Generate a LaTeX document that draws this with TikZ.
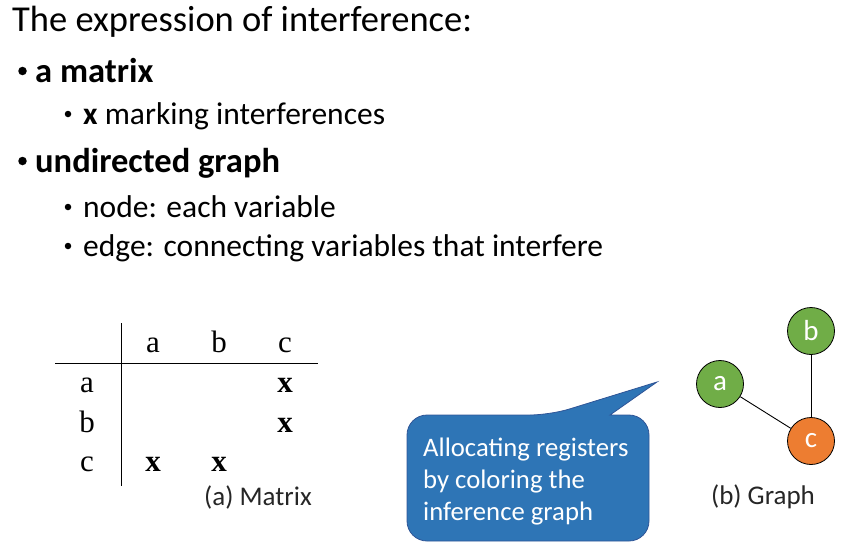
\documentclass[tikz,border=0pt]{standalone}
\usepackage{fontspec}
\setmainfont{Carlito}
\newfontfamily\serifmat{Liberation Serif}
\usetikzlibrary{calc}
\definecolor{gnode}{HTML}{70AD47}
\definecolor{onode}{HTML}{ED7D31}
\definecolor{callfill}{HTML}{2E75B6}
\definecolor{callline}{HTML}{2F5597}
\tikzset{
  lvltitle/.style={anchor=base west, inner sep=0pt, font=\fontsize{36.5}{40}\selectfont},
  lvlone/.style={anchor=base west, inner sep=0pt, font=\bfseries\fontsize{34.5}{38}\selectfont},
  lvltwo/.style={anchor=base west, inner sep=0pt, font=\fontsize{31.5}{35}\selectfont},
  bulletone/.style={circle, fill=black, inner sep=0pt, minimum size=8.5pt},
  bullettwo/.style={circle, fill=black, inner sep=0pt, minimum size=6.5pt},
  mat/.style={anchor=base, inner sep=0pt, font=\serifmat\fontsize{31}{34}\selectfont},
  matx/.style={anchor=base, inner sep=0pt, font=\serifmat\bfseries\fontsize{31}{34}\selectfont},
  caption/.style={inner sep=0pt, font=\fontsize{27}{30}\selectfont, text=black!85},
  gnodest/.style={circle, draw=black, line width=0.8pt, minimum size=47pt, inner sep=0pt, text=white, font=\fontsize{29}{30}\selectfont},
  edge/.style={draw=black, line width=0.9pt},
  calltext/.style={anchor=base west, inner sep=0pt, text=white, font=\fontsize{26.7}{30}\selectfont},
}
\begin{document}
\begin{tikzpicture}[x=1pt,y=-1pt]
\useasboundingbox (0,0) rectangle (859,551);
% text
\node[lvltitle] (title) at (12,32) {The expression of interference:};
\node[bulletone] (b1) at (22.5,71) {};
\node[lvlone] (t1) at (35,82) {a matrix};
\node[bullettwo] (b2) at (68,114) {};
\node[lvltwo] (t2) at (83,124) {\textbf{x} marking interferences};
\node[bulletone] (b3) at (22.5,161) {};
\node[lvlone] (t3) at (35,172) {undirected graph};
\node[bullettwo] (b4) at (68,207) {};
\node[lvltwo] (t4) at (83,217) {node: each variable};
\node[bullettwo] (b5) at (68,246) {};
\node[lvltwo] (t5) at (83,256) {edge: connecting variables that interfere};
% matrix
\coordinate (vtop) at (121,323);
\coordinate (vbot) at (121,486);
\coordinate (hl) at (55,363);
\coordinate (hr) at (318,363);
\draw[line width=0.9pt] (vtop) -- (vbot);
\draw[line width=0.9pt] (hl) -- (hr);
\node[mat] (ca) at (153,352) {a};
\node[mat] (cb) at (219,352) {b};
\node[mat] (cc) at (285,352) {c};
\node[mat] (ra) at (87,392) {a};
\node[mat] (rb) at (87,432) {b};
\node[mat] (rc) at (87,471) {c};
\node[matx] (xac) at (285,392) {x};
\node[matx] (xbc) at (285,432) {x};
\node[matx] (xca) at (153,471) {x};
\node[matx] (xcb) at (219,471) {x};
\node[caption] (capa) at (258,497) {(a) Matrix};
% graph
\node[gnodest, fill=gnode] (na) at (720,384) {a};
\node[gnodest, fill=gnode] (nb) at (811,331) {b};
\node[gnodest, fill=onode] (nc) at (811,441) {c};
\draw[edge] (na) -- (nc);
\draw[edge] (nb) -- (nc);
\node[caption] (capb) at (763,497) {(b) Graph};
% callout
\coordinate (tip) at (657,382);
\draw[fill=callfill, draw=callline, line width=0.8pt, rounded corners=20pt]
  (407,541) -- (407,415) -- (550,415) [sharp corners] -- (tip) -- (610,415) [rounded corners=20pt] -- (649,415) -- (649,541) -- cycle;
\node[calltext] (l1) at (423,456) {Allocating registers};
\node[calltext] (l2) at (423,488) {by coloring the};
\node[calltext] (l3) at (423,520) {inference graph};
\end{tikzpicture}
\end{document}
